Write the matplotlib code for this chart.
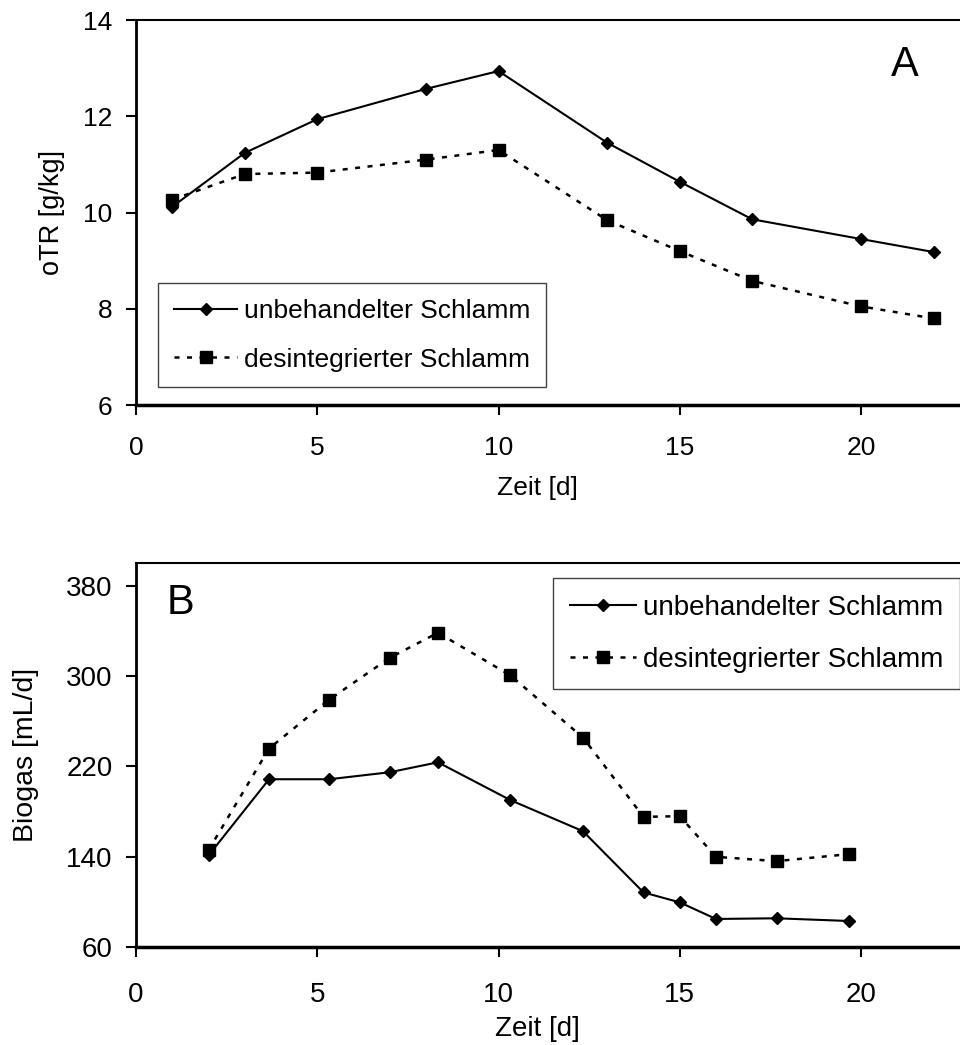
import matplotlib
matplotlib.use("Agg")
import matplotlib.pyplot as plt

# Panel A: oTR over time
zeit_a = [1, 3, 5, 8, 10, 13, 15, 17, 20, 22]
otr_unbeh = [10.12, 11.24, 11.94, 12.57, 12.94, 11.45, 10.64, 9.86, 9.45, 9.18]
otr_desint = [10.27, 10.80, 10.83, 11.10, 11.30, 9.84, 9.20, 8.58, 8.05, 7.80]

# Panel B: biogas over time
zeit_b = [2, 3.67, 5.33, 7, 8.33, 10.33, 12.33, 14, 15, 16, 17.67, 19.67]
gas_unbeh = [141, 208.5, 208.5, 214.7, 223.5, 190, 162.5, 108.3, 99.5, 84.8,
             85.4, 83]
gas_desint = [145.7, 235.7, 279, 316, 338.2, 300.4, 245.4, 175.2, 175.8,
              139.8, 136, 142.2]

labels = ["unbehandelter Schlamm", "desintegrierter Schlamm"]
xticks = [0, 5, 10, 15, 20]
yticks_a = [6, 8, 10, 12, 14]
yticks_b = [60, 140, 220, 300, 380]

plt.rcParams['font.family'] = ['Liberation Sans', 'DejaVu Sans']


def style_axes(ax, fs, xpad):
  ax.spines['right'].set_visible(False)
  ax.spines['top'].set_linewidth(1.5)
  ax.spines['left'].set_linewidth(2)
  ax.spines['bottom'].set_linewidth(2.5)
  ax.tick_params(direction='out', length=7, width=1.5, labelsize=fs)
  ax.tick_params(axis='x', pad=xpad)
  ax.tick_params(axis='y', pad=10)
  ax.set_xlim(0, 23)
  ax.set_xticks(xticks)


def draw_series(ax, x, y1, y2):
  ax.plot(x, y1, color='black', lw=1.5, marker='D', markersize=6.5,
          label=labels[0], clip_on=False)
  ax.plot(x, y2, color='black', lw=1.8, linestyle=(0, (2, 3)), marker='s',
          markersize=8.5, label=labels[1], clip_on=False)


def add_legend(ax, fs, anchor):
  leg = ax.legend(loc='upper left', bbox_to_anchor=anchor, borderaxespad=0,
                  fontsize=fs, handlelength=2.4, handletextpad=0.25,
                  labelspacing=0.94, borderpad=0.6, fancybox=False,
                  framealpha=1, edgecolor='#444444')
  leg.get_frame().set_linewidth(1)


def main():
  fig = plt.figure(figsize=(9.6, 10.45), dpi=100)
  width = 23 * 36.25 / 960

  fs = 19
  ax1 = fig.add_axes([136 / 960, 0.6124, width, 0.3684])
  draw_series(ax1, zeit_a, otr_unbeh, otr_desint)
  style_axes(ax1, fs, 15)
  ax1.set_ylim(6, 14)
  ax1.set_yticks(yticks_a)
  ax1.set_xlabel("Zeit [d]", fontsize=fs)
  ax1.set_ylabel("oTR [g/kg]", fontsize=19.5)
  ax1.xaxis.set_label_coords(0.482, -0.184)
  ax1.yaxis.set_label_coords(-0.085, 0.5)
  ax1.text(0.922, 0.883, "A", transform=ax1.transAxes, fontsize=30,
           ha='center', va='center')
  add_legend(ax1, fs, (0.0264, 0.317))

  fs = 20
  ax2 = fig.add_axes([136 / 960, 0.0938, width, 0.3675])
  draw_series(ax2, zeit_b, gas_unbeh, gas_desint)
  style_axes(ax2, fs, 18)
  ax2.set_ylim(60, 400)
  ax2.set_yticks(yticks_b)
  ax2.set_xlabel("Zeit [d]", fontsize=fs)
  ax2.set_ylabel("Biogas [mL/d]", fontsize=20.5)
  ax2.xaxis.set_label_coords(0.482, -0.18)
  ax2.yaxis.set_label_coords(-0.116, 0.5)
  ax2.text(0.053, 0.896, "B", transform=ax2.transAxes, fontsize=30,
           ha='center', va='center')
  add_legend(ax2, fs, (0.5, 0.961))

  fig.savefig("out.png", dpi=100)


if __name__ == '__main__':
  main()
